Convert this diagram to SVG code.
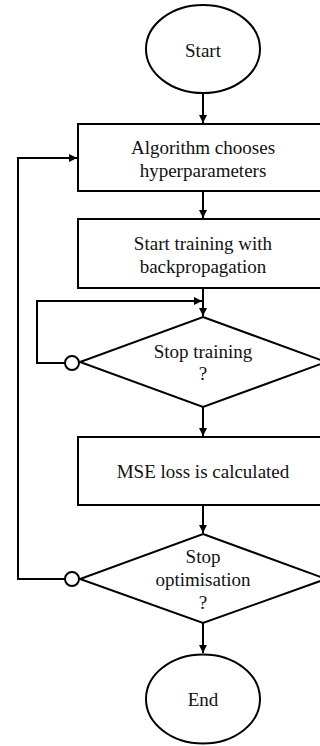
<svg xmlns="http://www.w3.org/2000/svg" width="320" height="746" viewBox="0 0 320 746">
<style>
.shape{fill:#fff;stroke:#000;stroke-width:2}
.line{fill:none;stroke:#000;stroke-width:2}
.t{font-family:"Liberation Serif","Times New Roman",serif;font-size:19px;fill:#111;text-anchor:middle}
</style>
<defs>
<marker id="arr" markerWidth="10" markerHeight="10" refX="9" refY="5" orient="auto" markerUnits="userSpaceOnUse">
<path d="M1,1 L9,5 L1,9 Z" fill="#000"/>
</marker>
</defs>
<rect width="320" height="746" fill="#fff"/>
<g id="connectors">
<line class="line" x1="203" y1="93" x2="203" y2="123" marker-end="url(#arr)"/>
<line class="line" x1="203" y1="191" x2="203" y2="218" marker-end="url(#arr)"/>
<line class="line" x1="203" y1="288" x2="203" y2="316" marker-end="url(#arr)"/>
<polyline class="line" points="65,363 37,363 37,301 202,301" marker-end="url(#arr)"/>
<line class="line" x1="203" y1="407" x2="203" y2="436" marker-end="url(#arr)"/>
<line class="line" x1="203" y1="505" x2="203" y2="533" marker-end="url(#arr)"/>
<polyline class="line" points="65,579 18,579 18,158 77,158" marker-end="url(#arr)"/>
<line class="line" x1="203" y1="623" x2="203" y2="653" marker-end="url(#arr)"/>
</g>
<g id="start">
<ellipse class="shape" cx="203" cy="49" rx="57" ry="44"/>
<text class="t" x="203" y="57">Start</text>
</g>
<g id="choose">
<rect class="shape" x="78" y="124" width="251" height="67"/>
<text class="t" x="203" y="154">Algorithm chooses</text>
<text class="t" x="203" y="177">hyperparameters</text>
</g>
<g id="train">
<rect class="shape" x="78" y="219" width="251" height="69"/>
<text class="t" x="203" y="250">Start training with</text>
<text class="t" x="203" y="273">backpropagation</text>
</g>
<g id="stoptrain">
<polygon class="shape" points="203,317 326,362 203,407 80,362"/>
<circle class="shape" cx="72" cy="363" r="7"/>
<text class="t" x="203" y="358">Stop training</text>
<text class="t" x="203" y="380">?</text>
</g>
<g id="mse">
<rect class="shape" x="78" y="437" width="251" height="68"/>
<text class="t" x="203" y="478">MSE loss is calculated</text>
</g>
<g id="stopopt">
<polygon class="shape" points="203,534 326,579 203,623 80,579"/>
<circle class="shape" cx="72" cy="579" r="7"/>
<text class="t" x="203" y="563">Stop</text>
<text class="t" x="203" y="586">optimisation</text>
<text class="t" x="203" y="609">?</text>
</g>
<g id="end">
<ellipse class="shape" cx="203" cy="699" rx="57" ry="44.5"/>
<text class="t" x="203" y="706">End</text>
</g>
</svg>
